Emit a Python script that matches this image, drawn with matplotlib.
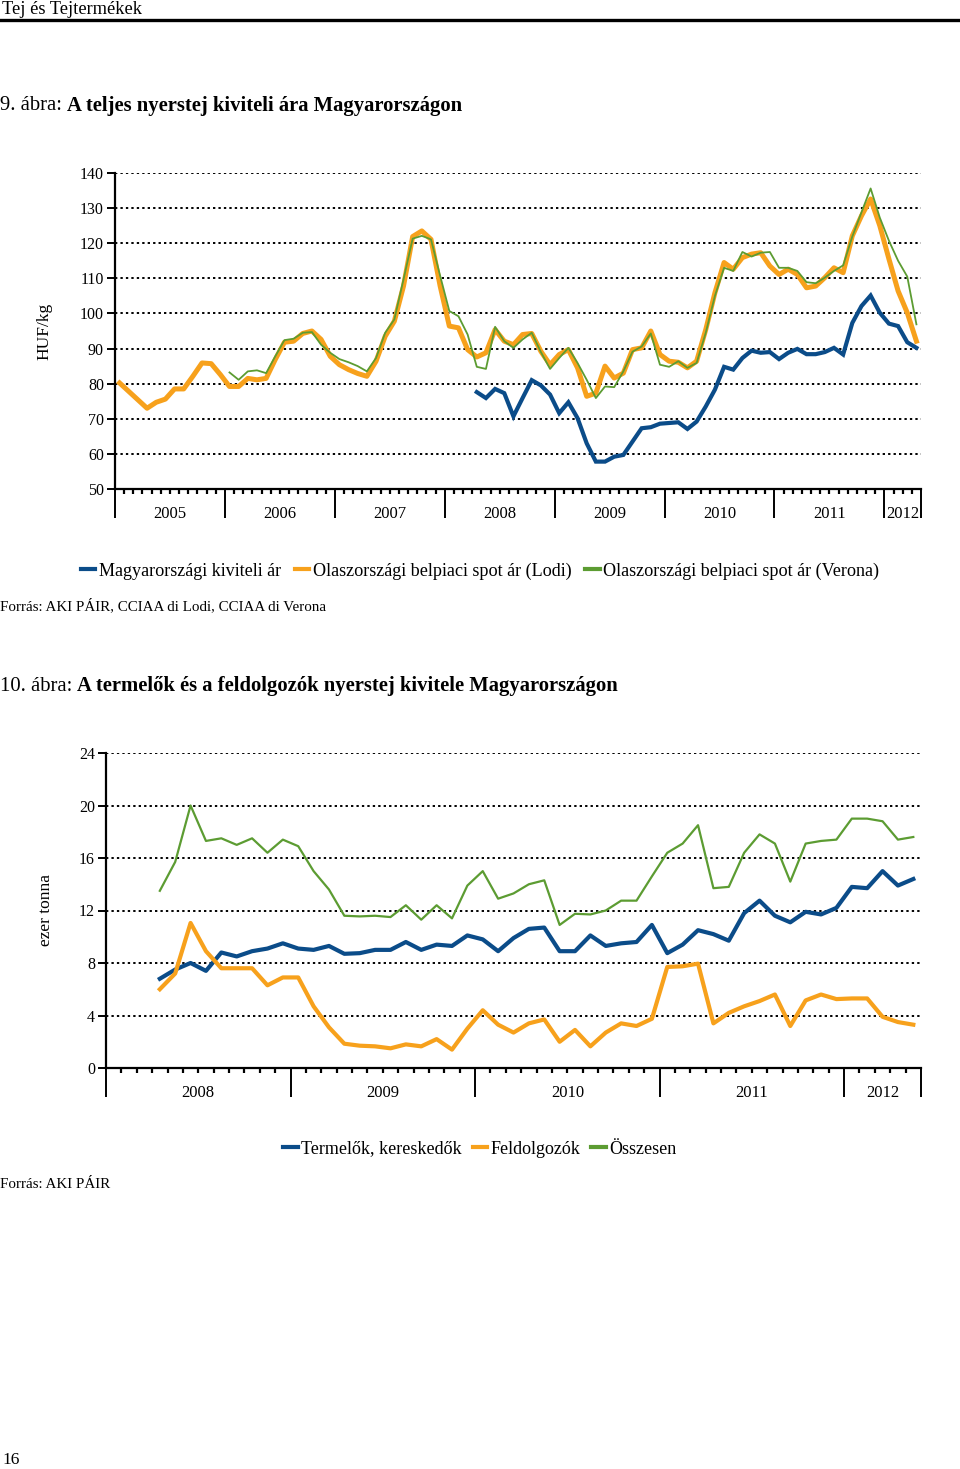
"""Hungarian raw milk export: price (fig. 9) and volume (fig. 10)."""

import matplotlib
matplotlib.use("Agg")
import matplotlib.pyplot as plt
import numpy as np
from matplotlib.lines import Line2D
from matplotlib.transforms import blended_transform_factory

plt.rcParams["font.family"] = ["Liberation Serif", "DejaVu Serif"]

BLUE = "#0b4c89"
ORANGE = "#f7a11c"
GREEN = "#5c9c32"

# ---- fig. 9: monthly prices, Jan 2005 - Apr 2012 (HUF/kg) ----
price_years = ["2005", "2006", "2007", "2008", "2009", "2010", "2011", "2012"]
price_months = 88

lodi = [80.2, 77.8, 75.4, 73.0, 74.7, 75.6, 78.5, 78.5, 82.1, 85.9, 85.7, 82.6,
        79.2, 79.2, 81.5, 81.1, 81.5, 86.9, 91.8, 92.1, 94.3, 95.0, 92.6, 87.8,
        85.4, 84.0, 82.9, 82.1, 86.4, 93.5, 97.8, 107.8, 121.9, 123.5, 121.1, 107.8,
        96.4, 95.9, 89.7, 87.6, 88.8, 95.4, 92.1, 91.1, 94.0, 94.3, 89.2, 85.4,
        88.3, 89.7, 84.5, 76.4, 77.3, 85.0, 81.6, 83.0, 89.7, 90.2, 95.0, 88.3,
        86.4, 86.1, 84.5, 86.4, 95.4, 105.9, 114.5, 112.6, 115.9, 116.9, 117.3, 113.5,
        111.1, 112.6, 111.1, 107.3, 107.8, 110.2, 113.0, 111.6, 122.1, 127.8, 132.6, 125.0,
        115.5, 106.4, 100.2, 92.1]

verona_start = 12
verona = [83.2, 81.1, 83.5, 83.8, 83.0, 87.8, 92.4, 92.8, 94.5, 94.7,
          91.1, 88.8, 87.0, 86.1, 85.0, 83.5, 87.3, 94.5, 98.3, 109.7,
          121.3, 122.1, 121.1, 110.7, 100.7, 99.2, 94.0, 84.8, 84.2, 96.2,
          92.1, 90.2, 92.6, 94.5, 89.0, 84.2, 87.3, 90.2, 85.9, 81.1,
          75.9, 79.2, 79.0, 83.5, 89.1, 90.6, 94.3, 85.4, 84.8, 86.4,
          84.5, 85.9, 94.5, 105.0, 113.0, 112.1, 117.5, 116.2, 117.3, 117.5,
          113.0, 113.0, 112.1, 108.9, 108.6, 110.2, 112.1, 113.7, 121.9, 128.8,
          135.6, 127.3, 120.7, 115.0, 110.5, 96.9]

hu_start = 39
hu_export = [77.6, 75.9, 78.5, 77.3, 70.7, 75.9, 81.0, 79.5, 76.9, 71.6,
             74.7, 70.2, 63.0, 57.8, 57.8, 59.2, 59.7, 63.5, 67.3, 67.6,
             68.6, 68.8, 69.0, 67.1, 69.2, 73.5, 78.3, 84.8, 84.0, 87.3,
             89.4, 88.8, 89.0, 87.0, 88.8, 89.9, 88.4, 88.4, 89.0, 90.2,
             88.3, 97.3, 102.1, 105.1, 100.2, 97.1, 96.4, 91.8, 90.2]

# ---- fig. 10: monthly export volume, Jan 2008 - May 2012 (thousand t) ----
vol_years = ["2008", "2009", "2010", "2011", "2012"]
vol_months = 53
vol_start = 3

producers = [6.8, 7.5, 8.0, 7.4, 8.8, 8.5, 8.9, 9.1, 9.5, 9.1,
             9.0, 9.3, 8.7, 8.75, 9.0, 9.0, 9.6, 9.0, 9.4, 9.3,
             10.1, 9.8, 8.9, 9.9, 10.6, 10.7, 8.9, 8.9, 10.1, 9.3,
             9.5, 9.6, 10.9, 8.75, 9.4, 10.5, 10.2, 9.7, 11.8, 12.75,
             11.6, 11.1, 11.9, 11.7, 12.2, 13.8, 13.7, 15.0, 13.9, 14.4]
processors = [6.0, 7.2, 11.05, 8.9, 7.6, 7.6, 7.6, 6.3, 6.9, 6.9,
              4.7, 3.1, 1.85, 1.7, 1.65, 1.5, 1.8, 1.65, 2.2, 1.4,
              3.0, 4.4, 3.3, 2.7, 3.4, 3.7, 2.0, 2.9, 1.65, 2.7,
              3.4, 3.2, 3.75, 7.7, 7.75, 7.95, 3.4, 4.2, 4.7, 5.1,
              5.6, 3.2, 5.15, 5.6, 5.25, 5.3, 5.3, 3.9, 3.5, 3.3]
total = [13.5, 15.7, 20.0, 17.3, 17.5, 17.0, 17.5, 16.4, 17.4, 16.9,
         15.0, 13.6, 11.6, 11.55, 11.6, 11.5, 12.4, 11.3, 12.4, 11.4,
         13.9, 15.0, 12.9, 13.3, 14.0, 14.3, 10.9, 11.75, 11.7, 12.0,
         12.75, 12.75, 14.6, 16.4, 17.1, 18.5, 13.7, 13.8, 16.4, 17.8,
         17.1, 14.2, 17.1, 17.3, 17.4, 19.0, 19.0, 18.8, 17.4, 17.6]


def style_axes(ax, n_months, years, ylim, ystep, label_pad):
	ax.set_xlim(-0.5, n_months - 0.5)
	ax.set_ylim(*ylim)
	yt = np.arange(ylim[0], ylim[1] + 0.1, ystep)
	ax.set_yticks(yt)
	for y in yt[1:]:
		ax.axhline(y, color="black", lw=1.4, ls=(0, (1.2, 1.6)), zorder=1)
	for s in ["top", "right"]:
		ax.spines[s].set_visible(False)
	for s in ["left", "bottom"]:
		ax.spines[s].set_linewidth(1.6)
	ax.tick_params(axis="y", length=6, width=1.4, direction="out", labelsize=11.5, pad=2)
	# month ticks and long year separators
	bounds = [-0.5 + 12 * k for k in range(len(years))] + [n_months - 0.5]
	ax.set_xticks(bounds)
	ax.set_xticklabels([])
	ax.set_xticks(np.arange(-0.5, n_months, 1.0), minor=True)
	ax.tick_params(axis="x", which="major", length=21, width=1.4, direction="out")
	ax.tick_params(axis="x", which="minor", length=3.5, width=1.6, direction="out")
	tr = blended_transform_factory(ax.transData, ax.transAxes)
	for k, yr in enumerate(years):
		lo, hi = bounds[k], bounds[k + 1]
		ax.text((lo + hi) / 2, label_pad, yr, transform=tr, ha="center", va="center", fontsize=12)


fig = plt.figure(figsize=(9.6, 14.69), dpi=100)
H = 1469.0
W = 960.0

# page header
fig.text(2 / W, 1 - 10 / H, "Tej és Tejtermékek", fontsize=13.2, va="center", ha="left")
fig.add_artist(Line2D([0, 1], [1 - 20 / H, 1 - 20 / H], color="black", lw=2.4,
                      transform=fig.transFigure))

# ---- top chart ----
ax1 = fig.add_axes([115 / W, 1 - 489 / H, 806 / W, 316 / H])
m = np.arange(price_months)
ax1.plot(m[hu_start:hu_start + len(hu_export)], hu_export, color=BLUE, lw=3.0,
         solid_joinstyle="miter", zorder=3)
ax1.plot(m[:len(lodi)], lodi, color=ORANGE, lw=3.6, zorder=3)
ax1.plot(m[verona_start:verona_start + len(verona)], verona, color=GREEN, lw=1.3, zorder=4)
style_axes(ax1, price_months, price_years, (50, 140), 10, -0.08)
ax1.set_ylabel("HUF/kg", fontsize=12.5, labelpad=20)

t1 = fig.text(0, 1 - 106 / H, "9. ábra: ", fontsize=14.9, va="center", ha="left")
ax1.annotate("A teljes nyerstej kiviteli ára Magyarországon", xy=(1, 0), xycoords=t1,
             va="bottom", ha="left", fontsize=14.9, fontweight="bold", annotation_clip=False)

h1 = [Line2D([], [], color=BLUE, lw=3), Line2D([], [], color=ORANGE, lw=3),
      Line2D([], [], color=GREEN, lw=3)]
fig.legend(h1, ["Magyarországi kiviteli ár", "Olaszországi belpiaci spot ár (Lodi)",
                "Olaszországi belpiaci spot ár (Verona)"],
           loc="center", bbox_to_anchor=(480 / W, 1 - 571 / H), ncol=3, frameon=False,
           fontsize=13.1, handlelength=0.8, handletextpad=0.2, columnspacing=0.75)
fig.text(0, 1 - 606 / H, "Forrás: AKI PÁIR, CCIAA di Lodi, CCIAA di Verona",
         fontsize=10.8, va="center", ha="left")

# ---- bottom chart ----
t2 = fig.text(0, 1 - 686 / H, "10. ábra: ", fontsize=14.9, va="center", ha="left")
ax2 = fig.add_axes([106 / W, 1 - 1068 / H, 815 / W, 315 / H])
ax2.annotate("A termelők és a feldolgozók nyerstej kivitele Magyarországon", xy=(1, 0),
             xycoords=t2, va="bottom", ha="left", fontsize=14.9, fontweight="bold",
             annotation_clip=False)
mv = np.arange(vol_months)
ax2.plot(mv[vol_start:vol_start + len(producers)], producers, color=BLUE, lw=3.0, zorder=3)
ax2.plot(mv[vol_start:vol_start + len(processors)], processors, color=ORANGE, lw=3.0, zorder=3)
ax2.plot(mv[vol_start:vol_start + len(total)], total, color=GREEN, lw=1.6, zorder=4)
style_axes(ax2, vol_months, vol_years, (0, 24), 4, -0.08)
ax2.set_ylabel("ezer tonna", fontsize=12.5, labelpad=18)

h2 = [Line2D([], [], color=BLUE, lw=3), Line2D([], [], color=ORANGE, lw=3),
      Line2D([], [], color=GREEN, lw=3)]
fig.legend(h2, ["Termelők, kereskedők", "Feldolgozók", "Összesen"],
           loc="center", bbox_to_anchor=(480 / W, 1 - 1149 / H), ncol=3, frameon=False,
           fontsize=13, handlelength=0.8, handletextpad=0.2, columnspacing=0.6)
fig.text(0, 1 - 1185 / H, "Forrás: AKI PÁIR", fontsize=10.8, va="center", ha="left")

fig.text(2 / W, 1 - 1460 / H, "16", fontsize=12.5, va="center", ha="left")

fig.savefig("out.png", dpi=100)
